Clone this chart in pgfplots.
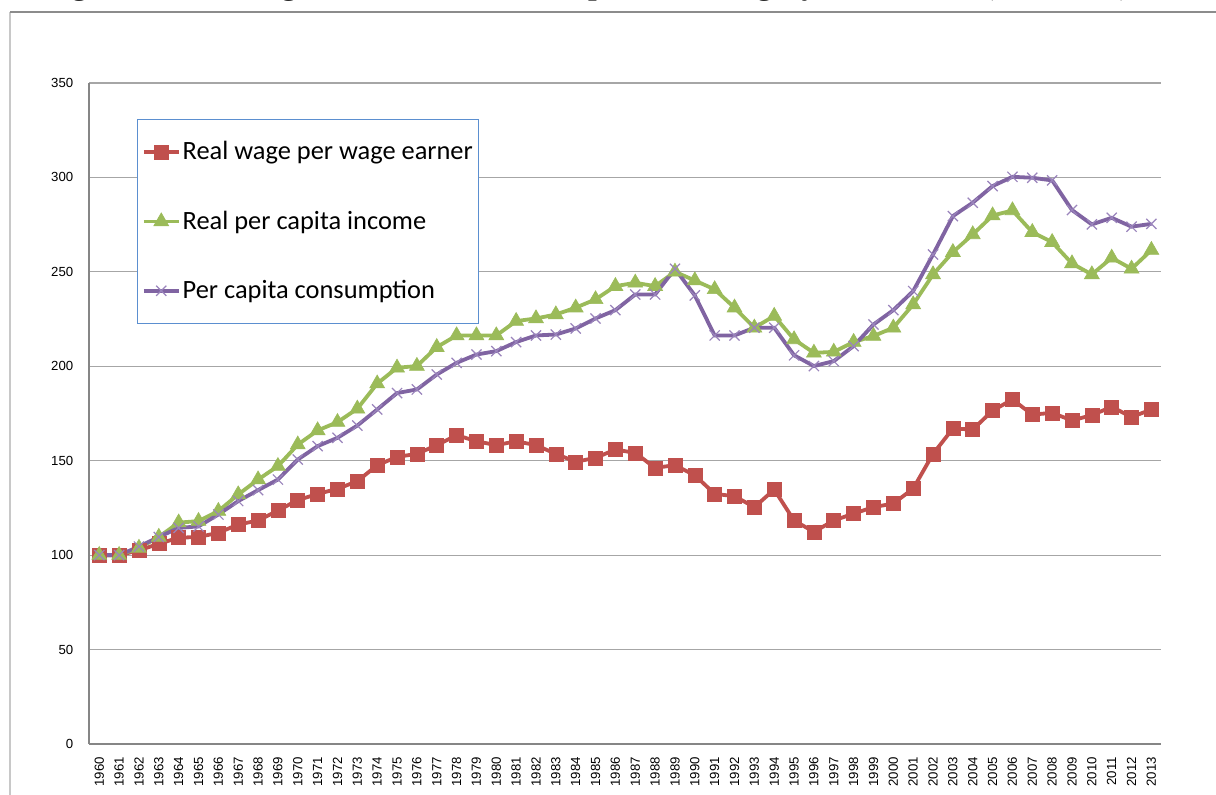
\documentclass[border=0pt]{standalone}
\usepackage{pgfplots}
\pgfplotsset{compat=1.18}
\usepackage{pgfplotstable}
\usepackage{fontspec}
\setmainfont{Liberation Sans}
\newfontfamily\calibri{Carlito}
\newfontfamily\titlefont{Liberation Serif}
\definecolor{cred}{HTML}{C0504D}
\definecolor{cgreen}{HTML}{9BBB59}
\definecolor{cpurple}{HTML}{8064A2}
\definecolor{cpurplelight}{HTML}{9A84BC}
\definecolor{gridgray}{HTML}{A6A6A6}
\definecolor{axisgray}{HTML}{868686}
\definecolor{legblue}{HTML}{5B8FD0}
\definecolor{framegray}{HTML}{8C8C8C}
\definecolor{framelight}{HTML}{C8C8C8}
\pgfplotstableread{
idx wage income cons
0 100 100 100
1 100 100 100
2 102.5 103.8 104.5
3 106 109.6 109.6
4 109.2 117.2 114.4
5 109.6 118 115.2
6 111.8 123.3 121.5
7 116.2 132.1 128.6
8 118.3 140 134.4
9 123.6 147.1 140
10 129.1 158.5 150.6
11 132.4 166 157.7
12 135.1 170.4 162.1
13 139.1 177.5 168.6
14 147.6 190.8 177.1
15 152 199.2 185.8
16 153.6 200.1 187.7
17 158.2 210.1 195.6
18 163.5 216.3 201.8
19 160.3 216.3 206.2
20 158.2 216.3 208
21 160.3 223.9 212.8
22 158.2 225.3 216.3
23 153.6 227.4 216.8
24 149.4 231 220
25 151.5 235.4 225.3
26 155.9 242.4 229.7
27 154.1 244.2 238
28 146.2 242.4 238
29 147.6 250 251.6
30 142.3 245.4 237.5
31 132.4 240.7 216.3
32 131.2 231 216.3
33 125.4 220.4 220.4
34 134.7 226.6 220.4
35 118.3 214.2 205.8
36 112.3 207.1 200.1
37 118.3 207.6 202.7
38 122 212.8 210.7
39 125.4 216 222.1
40 127.3 220.4 229.7
41 135.2 232.7 239.8
42 153.6 248.6 259.2
43 167 260.4 279.5
44 166.5 269.8 286.6
45 176.5 279.8 295.4
46 182.4 282.5 300.3
47 174.4 271 299.8
48 175.3 265.7 298.4
49 171.3 254.4 282.7
50 174.1 248.6 275.1
51 178.5 257.4 278.6
52 173.1 251.6 273.9
53 177.1 261.5 275.4
}\datatable
\begin{document}
\begin{tikzpicture}[x=1pt,y=1pt]
\useasboundingbox (0,0) rectangle (608,397);
\clip (0,0) rectangle (608,397);
\fill[white] (0,0) rectangle (608,397);
\draw[framelight, line width=0.8pt] (5,-5) -- (5,391);
\draw[framegray, line width=0.8pt] (5,391) -- (620,391);
\node[anchor=base west, font=\titlefont\bfseries\fontsize{15.5}{18}\selectfont, inner sep=0] at (22,399.6) {Figure 1: Real wage, income and consumption in Hungary, 1960--2013 (1960=100)};
\begin{axis}[
  at={(45,26.5)}, anchor=south west,
  scale only axis, width=536pt, height=330.5pt,
  xmin=-0.5, xmax=53.5, ymin=0, ymax=350,
  ytick={0,50,...,350},
  xtick={0,...,53},
  xticklabels={1960,1961,1962,1963,1964,1965,1966,1967,1968,1969,1970,1971,1972,1973,1974,1975,1976,1977,1978,1979,1980,1981,1982,1983,1984,1985,1986,1987,1988,1989,1990,1991,1992,1993,1994,1995,1996,1997,1998,1999,2000,2001,2002,2003,2004,2005,2006,2007,2008,2009,2010,2011,2012,2013},
  ymajorgrids, grid style={color=gridgray, line width=0.6pt},
  axis x line=bottom, axis y line=left,
  axis line style={-, color=axisgray, line width=0.9pt},
  major tick length=0pt, tick style={draw=none},
  /pgf/number format/assume math mode=true,
  ticklabel style={font=\fontsize{6.6}{7}\selectfont},
  yticklabel style={xshift=-4.5pt},
  xticklabel style={yshift=-3pt, rotate=90, anchor=east},
  legend cell align=left,
  legend style={at={(0.0448,0.9455)}, anchor=north west, draw=legblue, line width=0.5pt,
    font=\calibri\fontsize{13.2}{16}\selectfont, row sep=22pt, inner xsep=2pt, inner ysep=10pt,
    nodes={inner sep=1pt}},
  legend image code/.code={\draw[mark repeat=2,mark phase=2,#1] plot coordinates {(0pt,0pt)(8.75pt,0pt)(17.5pt,0pt)};},
]
\addplot[color=cred, line width=1.9pt, mark=square*, mark size=3.5pt, mark options={fill=cred, draw=cred, line width=0.3pt}] table[x=idx, y=wage] {\datatable};
\addlegendentry{Real wage per wage earner}
\addplot[color=cgreen, line width=1.9pt, mark=triangle*, mark size=4.3pt, mark options={fill=cgreen, draw=cgreen, line width=0.3pt}] table[x=idx, y=income] {\datatable};
\addlegendentry{Real per capita income}
\addplot[color=cpurple, line width=1.9pt, mark=x, mark size=3.6pt, mark options={draw=cpurplelight, line width=0.6pt}] table[x=idx, y=cons] {\datatable};
\addlegendentry{Per capita consumption}
\end{axis}
\end{tikzpicture}
\end{document}
